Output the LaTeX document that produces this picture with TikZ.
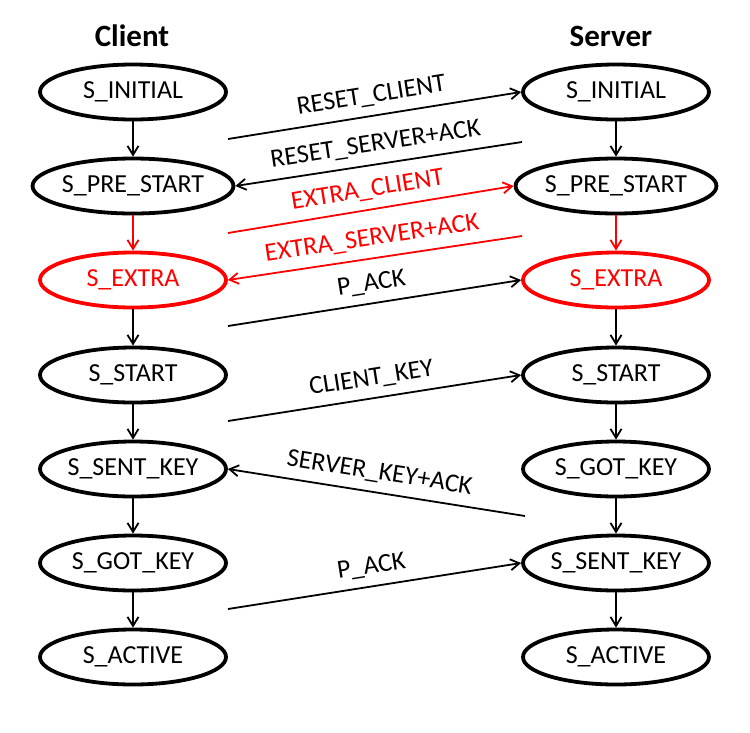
\documentclass[tikz,border=0pt]{standalone}
\usepackage{fontspec}
\setmainfont{Carlito}
\usetikzlibrary{shapes.geometric,arrows.meta}
\begin{document}
\begin{tikzpicture}[x=1pt,y=-1pt,
  st/.style={ellipse, draw, line width=3.8pt, minimum width=186pt, minimum height=55pt, inner sep=0pt, font=\fontsize{26}{31}\selectfont},
  rst/.style={st, draw=red, text=red},
  tip/.tip={Straight Barb[length=9pt,width=11pt]},
  flow/.style={line width=1.8pt, -tip},
  back/.style={line width=1.8pt, tip-},
  lbl/.style={sloped, above=12pt, inner sep=0pt, text depth=0pt, font=\fontsize{26}{31}\selectfont},
  ttl/.style={font=\fontsize{31}{37}\selectfont\bfseries, anchor=base}]
\useasboundingbox (0,0) rectangle (750,732);
\node[ttl] (tc) at (132,46) {Client};
\node[ttl] (ts) at (611,46) {Server};
% client
\node[st]  (c1) at (133,92)  {S\_INITIAL};
\node[st]  (c2) at (133,186) {S\_PRE\_START};
\node[rst] (c3) at (133,280) {S\_EXTRA};
\node[st]  (c4) at (133,375) {S\_START};
\node[st]  (c5) at (133,469) {S\_SENT\_KEY};
\node[st]  (c6) at (133,563) {S\_GOT\_KEY};
\node[st]  (c7) at (133,657) {S\_ACTIVE};
% server
\node[st]  (s1) at (616,92)  {S\_INITIAL};
\node[st]  (s2) at (616,186) {S\_PRE\_START};
\node[rst] (s3) at (616,280) {S\_EXTRA};
\node[st]  (s4) at (616,375) {S\_START};
\node[st]  (s5) at (616,469) {S\_GOT\_KEY};
\node[st]  (s6) at (616,563) {S\_SENT\_KEY};
\node[st]  (s7) at (616,657) {S\_ACTIVE};
% vertical flows
\draw[flow] (c1) -- (c2);
\draw[flow,red] (c2) -- (c3);
\draw[flow] (c3) -- (c4);
\draw[flow] (c4) -- (c5);
\draw[flow] (c5) -- (c6);
\draw[flow] (c6) -- (c7);
\draw[flow] (s1) -- (s2);
\draw[flow,red] (s2) -- (s3);
\draw[flow] (s3) -- (s4);
\draw[flow] (s4) -- (s5);
\draw[flow] (s5) -- (s6);
\draw[flow] (s6) -- (s7);
% messages
\coordinate (m1) at (228,139);
\coordinate (m2) at (522,142);
\coordinate (m3) at (228,233);
\coordinate (m4) at (522,236);
\coordinate (m5) at (228,326);
\coordinate (m6) at (228,421);
\coordinate (m7) at (525,516);
\coordinate (m8) at (228,609);
\draw[flow] (m1) -- node[lbl] {RESET\_CLIENT} (s1.west);
\draw[back] (c2.east) -- node[lbl] {RESET\_SERVER+ACK} (m2);
\draw[flow,red] (m3) -- node[lbl,text=red] {EXTRA\_CLIENT} (s2.west);
\draw[back,red] (c3.east) -- node[lbl,text=red] {EXTRA\_SERVER+ACK} (m4);
\draw[flow] (m5) -- node[lbl] {P\_ACK} (s3.west);
\draw[flow] (m6) -- node[lbl] {CLIENT\_KEY} (s4.west);
\draw[back] (c5.east) -- node[lbl] {SERVER\_KEY+ACK} (m7);
\draw[flow] (m8) -- node[lbl] {P\_ACK} (s6.west);
\end{tikzpicture}
\end{document}
